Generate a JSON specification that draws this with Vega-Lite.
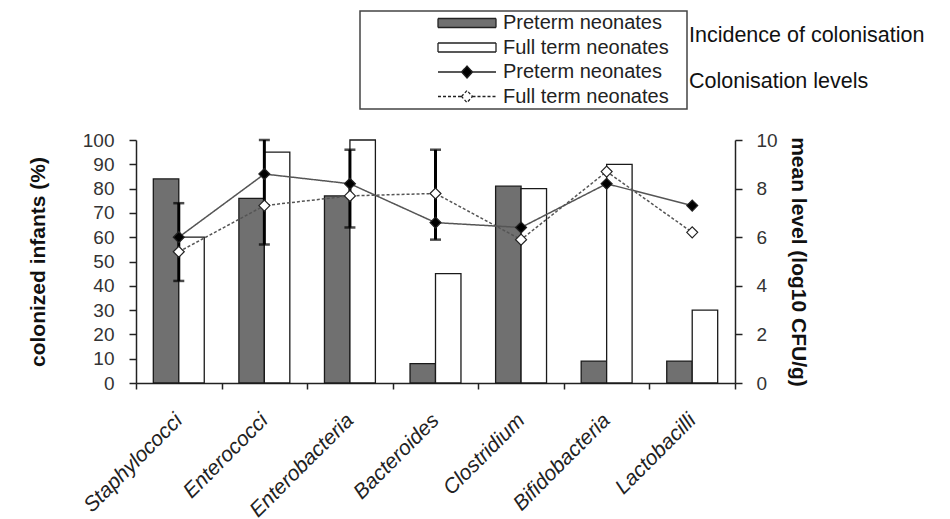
{
  "$schema": "https://vega.github.io/schema/vega-lite/v6.json",
  "autosize": {"type": "none"},
  "width": 599,
  "height": 243,
  "padding": {"left": 136, "top": 140, "right": 215, "bottom": 136},
  "background": "white",
  "title": {
    "text": "Incidence of colonisation",
    "subtitle": "Colonisation levels",
    "orient": "top",
    "anchor": "start",
    "frame": "group",
    "dx": 553,
    "offset": -82,
    "font": "Liberation Sans",
    "fontSize": 21.5,
    "fontWeight": "normal",
    "color": "#111",
    "subtitleFont": "Liberation Sans",
    "subtitleFontSize": 21.5,
    "subtitleColor": "#111",
    "subtitlePadding": 24
  },
  "datasets": {
    "incidence": [
      {"category": "Staphylococci", "series": "Incidence: Preterm", "pct": 84},
      {"category": "Staphylococci", "series": "Incidence: Full term", "pct": 60},
      {"category": "Enterococci", "series": "Incidence: Preterm", "pct": 76},
      {"category": "Enterococci", "series": "Incidence: Full term", "pct": 95},
      {"category": "Enterobacteria", "series": "Incidence: Preterm", "pct": 77},
      {"category": "Enterobacteria", "series": "Incidence: Full term", "pct": 100},
      {"category": "Bacteroides", "series": "Incidence: Preterm", "pct": 8},
      {"category": "Bacteroides", "series": "Incidence: Full term", "pct": 45},
      {"category": "Clostridium", "series": "Incidence: Preterm", "pct": 81},
      {"category": "Clostridium", "series": "Incidence: Full term", "pct": 80},
      {"category": "Bifidobacteria", "series": "Incidence: Preterm", "pct": 9},
      {"category": "Bifidobacteria", "series": "Incidence: Full term", "pct": 90},
      {"category": "Lactobacilli", "series": "Incidence: Preterm", "pct": 9},
      {"category": "Lactobacilli", "series": "Incidence: Full term", "pct": 30}
    ],
    "levels": [
      {"category": "Staphylococci", "series": "Level: Preterm", "level": 6.0},
      {"category": "Enterococci", "series": "Level: Preterm", "level": 8.6},
      {"category": "Enterobacteria", "series": "Level: Preterm", "level": 8.2},
      {"category": "Bacteroides", "series": "Level: Preterm", "level": 6.6},
      {"category": "Clostridium", "series": "Level: Preterm", "level": 6.4},
      {"category": "Bifidobacteria", "series": "Level: Preterm", "level": 8.2},
      {"category": "Lactobacilli", "series": "Level: Preterm", "level": 7.3},
      {"category": "Staphylococci", "series": "Level: Full term", "level": 5.4},
      {"category": "Enterococci", "series": "Level: Full term", "level": 7.3},
      {"category": "Enterobacteria", "series": "Level: Full term", "level": 7.7},
      {"category": "Bacteroides", "series": "Level: Full term", "level": 7.8},
      {"category": "Clostridium", "series": "Level: Full term", "level": 5.9},
      {"category": "Bifidobacteria", "series": "Level: Full term", "level": 8.7},
      {"category": "Lactobacilli", "series": "Level: Full term", "level": 6.2}
    ],
    "spread": [
      {"category": "Staphylococci", "lo": 4.2, "hi": 7.4},
      {"category": "Enterococci", "lo": 5.7, "hi": 10.0},
      {"category": "Enterobacteria", "lo": 6.4, "hi": 9.6},
      {"category": "Bacteroides", "lo": 5.9, "hi": 9.6}
    ],
    "key": []
  },
  "resolve": {"scale": {"y": "independent"}},
  "layer": [
    {
      "data": {"name": "incidence"},
      "mark": {"type": "bar", "stroke": "#1a1a1a", "strokeWidth": 1.3},
      "encoding": {
        "x": {
          "field": "category",
          "type": "nominal",
          "sort": null,
          "scale": {"paddingInner": 0, "paddingOuter": 0},
          "axis": {
            "title": null,
            "tickBand": "extent",
            "labelAngle": -45,
            "labelAlign": "right",
            "labelBaseline": "middle",
            "labelFontSize": 21,
            "labelFontStyle": "italic",
            "labelColor": "#222",
            "labelLimit": 300,
            "tickSize": 6,
            "labelPadding": 28
          }
        },
        "xOffset": {
          "field": "series",
          "type": "nominal",
          "scale": {"domain": ["Incidence: Preterm", "Incidence: Full term"], "paddingInner": 0, "paddingOuter": 0.68}
        },
        "y": {
          "field": "pct",
          "type": "quantitative",
          "scale": {"domain": [0, 100], "nice": false},
          "axis": {
            "title": "colonized infants (%)",
            "values": [0, 10, 20, 30, 40, 50, 60, 70, 80, 90, 100],
            "labelFontSize": 19,
            "labelColor": "#333",
            "tickSize": 7,
            "labelPadding": 15,
            "titleFontSize": 21,
            "titleFontWeight": "bold",
            "titleColor": "#111",
            "titlePadding": 34
          }
        },
        "fill": {
          "field": "series",
          "type": "nominal",
          "scale": {
            "domain": ["Incidence: Preterm", "Incidence: Full term", "Level: Preterm", "Level: Full term"],
            "range": ["#707070", "#ffffff", "#000000", "#ffffff"]
          },
          "legend": {
            "title": null,
            "orient": "none",
            "legendX": 224,
            "legendY": -129,
            "strokeColor": "#444",
            "padding": 2,
            "symbolOffset": 95,
            "symbolSize": 100,
            "symbolStrokeColor": "#222",
            "symbolStrokeWidth": 1.3,
            "labelOffset": 26,
            "rowPadding": 4.5,
            "labelFont": "Liberation Sans",
            "labelFontSize": 20,
            "labelLimit": 300,
            "labelColor": "#222",
            "labelExpr": "indexof(datum.value, 'Preterm') >= 0 ? 'Preterm neonates' : 'Full term neonates'"
          }
        }
      }
    },
    {
      "layer": [
        {
          "data": {"name": "levels"},
          "mark": {"type": "line", "color": "#555", "strokeWidth": 1.5},
          "encoding": {
            "x": {"field": "category", "type": "nominal", "sort": null},
            "y": {"field": "level", "type": "quantitative"},
            "strokeDash": {
              "field": "series",
              "type": "nominal",
              "scale": {
                "domain": ["Incidence: Preterm", "Incidence: Full term", "Level: Preterm", "Level: Full term"],
                "range": [[1, 0], [1, 0], [1, 0], [3, 2]]
              }
            }
          }
        },
        {
          "data": {"name": "key"},
          "mark": {"type": "point", "filled": true},
          "encoding": {
            "shape": {
              "field": "series",
              "type": "nominal",
              "scale": {
                "domain": ["Incidence: Preterm", "Incidence: Full term", "Level: Preterm", "Level: Full term"],
                "range": [
                  "M-5.8,-0.9H5.8V0.9H-5.8ZM43,0",
                  "M-5.8,-0.9H5.8V0.9H-5.8ZM43,0",
                  "M-5.8,0H-1.1M1.1,0H5.8M-1.1,0L0,-1.2L1.1,0L0,1.2ZM43,0",
                  "M-5.8,0H-1.1M1.1,0H5.8M-1.1,0L0,-1.2L1.1,0L0,1.2ZM43,0"
                ]
              }
            }
          }
        },
        {
          "data": {"name": "spread"},
          "mark": {"type": "rule", "color": "#000", "strokeWidth": 3},
          "encoding": {
            "x": {"field": "category", "type": "nominal", "sort": null},
            "y": {"field": "lo", "type": "quantitative"},
            "y2": {"field": "hi"}
          }
        },
        {
          "data": {"name": "spread"},
          "mark": {"type": "tick", "color": "#000", "size": 11, "thickness": 2.5, "orient": "horizontal"},
          "encoding": {
            "x": {"field": "category", "type": "nominal", "sort": null},
            "y": {"field": "lo", "type": "quantitative"}
          }
        },
        {
          "data": {"name": "spread"},
          "mark": {"type": "tick", "color": "#000", "size": 11, "thickness": 2.5, "orient": "horizontal"},
          "encoding": {
            "x": {"field": "category", "type": "nominal", "sort": null},
            "y": {"field": "hi", "type": "quantitative"}
          }
        },
        {
          "data": {"name": "levels"},
          "mark": {"type": "point", "shape": "diamond", "filled": true, "size": 120, "stroke": "#222", "strokeWidth": 1.2, "opacity": 1},
          "encoding": {
            "x": {"field": "category", "type": "nominal", "sort": null},
            "y": {
              "field": "level",
              "type": "quantitative",
              "scale": {"domain": [0, 10], "nice": false},
              "axis": {
                "orient": "right",
                "title": "mean level (log10 CFU/g)",
                "values": [0, 1, 2, 3, 4, 5, 6, 7, 8, 9, 10],
                "labelFontSize": 19,
                "labelColor": "#333",
                "tickSize": 7,
                "labelPadding": 14,
                "titleFontSize": 21,
                "titleFontWeight": "bold",
                "titleColor": "#111",
                "titlePadding": 10
              }
            },
            "fill": {"field": "series", "type": "nominal"}
          }
        }
      ]
    }
  ],
  "config": {
    "view": {"stroke": null},
    "font": "Liberation Sans",
    "legend": {"strokeWidth": 1.5},
    "axis": {
      "grid": false,
      "domainColor": "#222",
      "domainWidth": 1.5,
      "tickColor": "#222",
      "tickWidth": 1.5,
      "labelFont": "Liberation Sans",
      "titleFont": "Liberation Sans"
    }
  }
}
